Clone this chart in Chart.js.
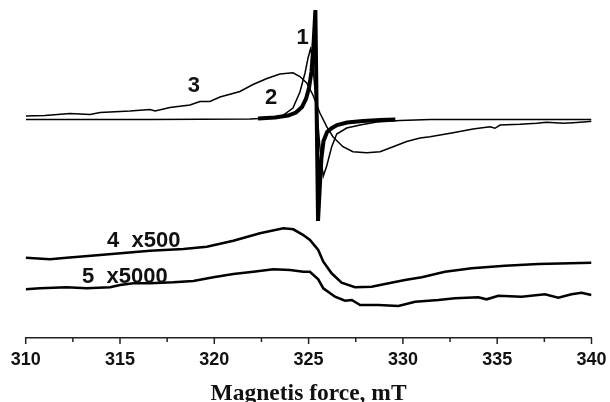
<!DOCTYPE html>
<html>
<head>
<meta charset="utf-8">
<script src="https://cdn.jsdelivr.net/npm/chart.js@4.4.1/dist/chart.umd.min.js"></script>
<style>
  html, body { margin: 0; padding: 0; background: #fff; }
  #wrap { width: 610px; height: 402px; position: relative; }
</style>
</head>
<body>
<div id="wrap"><canvas id="chart"></canvas></div>
<script>
// field in mT, signal in arbitrary units
const field1 = [322.32, 323.22, 323.91, 324.33, 324.65, 324.86, 325.02, 325.15, 325.26, 325.36, 325.50, 325.60, 325.68, 325.79, 325.98, 326.24, 326.51, 327.04, 327.88, 328.79, 329.60];
const signal1 = [0.5, 1.5, 3.5, 6.5, 12, 20, 31, 47, 74, 109, -102, -66, -39, -22, -13, -9, -6, -3.5, -2, -1, -0.5];

const field2 = [310, 316.59, 321.89, 322.95, 323.59, 324.17, 324.54, 324.81, 324.97, 325.10, 325.18, 325.34, 325.50, 325.66, 325.78, 325.96, 326.22, 326.49, 327.02, 327.73, 328.61, 329.85, 331.44, 340];
const signal2 = [-0.5, -0.5, 0, 1, 3, 11, 27, 46, 61, 70, 64, 29, -6, -41, -57, -47, -28, -15, -9, -6, -3, -1.5, -0.5, -0.5];

const field3 = [310.00, 311.02, 312.35, 313.41, 313.94, 315.53, 316.59, 316.86, 317.65, 318.71, 319.24, 319.77, 320.30, 321.36, 322.05, 322.79, 323.48, 324.17, 324.54, 324.90, 325.23, 325.60, 325.96, 326.29, 326.82, 327.35, 328.08, 328.79, 329.48, 330.20, 330.91, 331.44, 332.66, 333.72, 334.62, 334.88, 335.15, 336.21, 337.09, 337.62, 338.49, 339.02, 339.75, 340.00];
const signal3 = [3, 3.5, 5.5, 4.5, 6.5, 8, 9.5, 8, 11.5, 14, 17.5, 17.5, 22, 27.5, 34.5, 40.5, 45, 46.2, 42.5, 36, 24, 6, -7.7, -17.7, -27.7, -32.7, -33.7, -32.7, -27.7, -22.5, -19, -17.7, -13.7, -10, -7.7, -9.3, -6, -5.3, -4.3, -3.3, -4.3, -3.7, -2.7, -2.3];

const field4 = [310.00, 311.29, 312.17, 313.94, 316.59, 318.36, 319.60, 321.01, 322.42, 323.66, 324.19, 324.72, 325.07, 325.51, 325.78, 326.22, 326.75, 327.46, 328.34, 329.05, 330.11, 331.00, 332.23, 333.65, 335.41, 337.18, 340.00];
const signal4 = [-138.7, -140.3, -138.7, -136, -131.7, -130, -127.7, -121.7, -114.3, -109.3, -110.3, -116, -121, -131, -142.7, -154.3, -163.7, -168.3, -167.7, -165, -161, -158.3, -152.7, -149.3, -146.7, -145, -143.7];

const field5 = [310.00, 310.76, 312.17, 313.23, 314.47, 315.00, 315.71, 316.59, 317.83, 318.89, 319.95, 321.01, 322.07, 323.13, 324.02, 324.72, 325.07, 325.51, 325.78, 326.40, 326.93, 327.29, 327.73, 328.70, 329.76, 330.65, 331.88, 332.76, 334.00, 334.44, 335.06, 336.30, 337.53, 338.24, 338.94, 339.47, 340.00];
const signal5 = [-170.3, -169.3, -168.3, -169.3, -168.3, -166, -164.3, -164.3, -163.3, -162, -158.3, -155, -152.7, -150.3, -151, -152.7, -152.7, -160.3, -169.3, -177.7, -181.7, -181, -186, -186, -187, -182.7, -181, -179.3, -178.3, -180.3, -176.7, -177.7, -175.3, -178.7, -175.3, -173.7, -176];

// curve labels, anchored in data units
const labelTexts = ['1', '2', '3', '4  x500', '5  x5000'];
const labelField = [324.68, 323.01, 318.92, 314.31, 312.99];
const labelSignal = [81.5, 21, 33, -122, -158];
const labelAlign = ['center', 'center', 'center', 'left', 'left'];

const xTicks = [310, 315, 320, 325, 330, 335, 340];

function toPoints(xs, ys) {
    return xs.map((x, i) => ({ x, y: ys[i] }));
}

function curve(xs, ys, width) {
    return {
        data: toPoints(xs, ys),
        borderColor: '#000',
        borderWidth: width,
        pointRadius: 0,
        fill: false,
        tension: 0
    };
}

const axisTicks = {
    id: 'axisTicks',
    afterDraw(chart) {
        const ctx = chart.ctx;
        const x = chart.scales.x;
        const bottom = chart.chartArea.bottom;
        ctx.save();
        ctx.strokeStyle = '#222';
        ctx.lineWidth = 1.5;
        for (let v = x.min; v <= x.max + 0.001; v += 2.5) {
            const px = x.getPixelForValue(v);
            const len = xTicks.includes(v) ? 6 : 4;
            ctx.beginPath();
            ctx.moveTo(px, bottom);
            ctx.lineTo(px, bottom + len);
            ctx.stroke();
        }
        ctx.restore();
    }
};

const curveLabels = {
    id: 'curveLabels',
    afterDatasetsDraw(chart) {
        const ctx = chart.ctx;
        const { x, y } = chart.scales;
        ctx.save();
        ctx.fillStyle = '#111';
        ctx.font = 'bold 22px "Liberation Sans", Arial, sans-serif';
        ctx.textBaseline = 'middle';
        labelTexts.forEach((t, i) => {
            ctx.textAlign = labelAlign[i];
            ctx.fillText(t, x.getPixelForValue(labelField[i]), y.getPixelForValue(labelSignal[i]));
        });
        ctx.restore();
    }
};

new Chart(document.getElementById('chart'), {
    type: 'line',
    data: {
        datasets: [
            curve(field2, signal2, 1.5),
            curve(field3, signal3, 1.5),
            curve(field1, signal1, 4),
            curve(field4, signal4, 2.6),
            curve(field5, signal5, 2.6)
        ]
    },
    options: {
        responsive: true,
        maintainAspectRatio: false,
        animation: false,
        layout: { padding: { left: 25.7, right: 18.5, top: 0, bottom: 0 } },
        plugins: { legend: { display: false }, tooltip: { enabled: false } },
        scales: {
            x: {
                type: 'linear',
                min: 310,
                max: 340,
                afterFit: s => {
                    s.height = 64;
                    s.paddingLeft = 0;
                    s.paddingRight = 0;
                },
                afterBuildTicks: s => { s.ticks = xTicks.map(v => ({ value: v })); },
                grid: { display: false, drawTicks: false },
                border: { display: true, color: '#222', width: 1.5 },
                ticks: {
                    color: '#111',
                    padding: 11,
                    maxRotation: 0,
                    font: { family: '"Liberation Sans", Arial, sans-serif', weight: 'bold', size: 18 }
                },
                title: {
                    display: true,
                    text: 'Magnetis force, mT',
                    color: '#111',
                    padding: { top: 0, bottom: -6 },
                    font: { family: '"Liberation Serif", "Times New Roman", serif', weight: 'bold', size: 23.5 }
                }
            },
            y: {
                display: false,
                min: -219,
                max: 119
            }
        }
    },
    plugins: [axisTicks, curveLabels]
});
</script>
</body>
</html>
